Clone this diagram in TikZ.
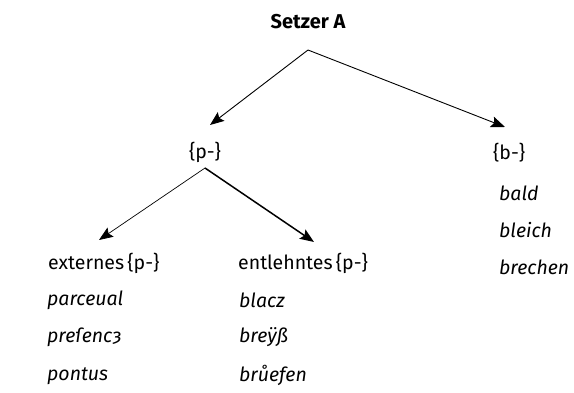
\documentclass[tikz,border=0pt]{standalone}
\usepackage{fontspec}
\setmainfont{Fira Sans}
\usetikzlibrary{arrows.meta}
\begin{document}
\begin{tikzpicture}[x=1pt,y=-1pt,
  lbl/.style={inner sep=0pt,font=\fontsize{19.5}{22}\selectfont},
  word/.style={lbl,anchor=west,font=\fontsize{19.5}{22}\selectfont\itshape},
  arr/.style={line width=0.9pt,-{Stealth[length=14pt,width=11pt,inset=2.5pt]}}]
\useasboundingbox (0,0) rectangle (574,393);
% top node and its branch point
\node[lbl,font=\fontsize{20}{22}\selectfont\bfseries] (top) at (308,22) {Setzer A};
\coordinate (topfork) at (308,50);
\coordinate (toP) at (210,125);
\coordinate (toB) at (505,127);
% second level
\node[lbl] (p) at (205,152) {\{p-\}};
\node[lbl,anchor=west] (b) at (493,153) {\{b-\}};
\coordinate (pfork) at (205,168);
\coordinate (toExt) at (99,240);
\coordinate (toEnt) at (314,242);
% third level
\node[lbl,anchor=west] (ext) at (48,263) {externes\,\{p-\}};
\node[lbl,anchor=west] (ent) at (238,263) {entlehntes\,\{p-\}};
% word lists
\node[word] (w1) at (47,300) {parceual};
\node[word] (w2) at (47,337) {preſencȝ};
\node[word] (w3) at (47,376) {pontus};
\node[word] (w4) at (239,300) {blacz};
\node[word] (w5) at (239,337) {breÿß};
\node[word] (w6) at (239,375) {brůefen};
\node[word] (w7) at (499,193) {bald};
\node[word] (w8) at (499,230) {bleich};
\node[word] (w9) at (499,267) {brechen};
% connectors
\draw[arr] (topfork) -- (toP);
\draw[arr] (topfork) -- (toB);
\draw[arr,line width=0.7pt] (pfork) -- (toExt);
\draw[arr,line width=1.5pt] (pfork) -- (toEnt);
\end{tikzpicture}
\end{document}
